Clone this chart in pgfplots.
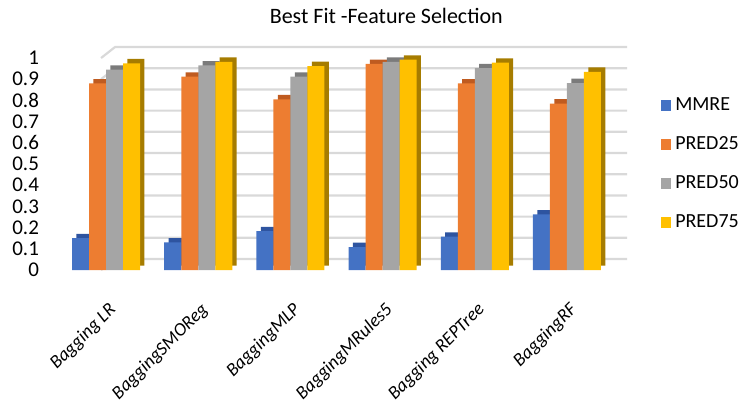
\documentclass[border=0pt]{standalone}
\usepackage{fontspec}
\setmainfont{Carlito}
\usepackage{pgfplots}
\pgfplotsset{compat=1.18}
\definecolor{cblue}{HTML}{4472C4}
\definecolor{corange}{HTML}{ED7D31}
\definecolor{cgray}{HTML}{A5A5A5}
\definecolor{cyellow}{HTML}{FFC000}
\definecolor{dblue}{HTML}{2E54A0}
\definecolor{dorange}{HTML}{BF5B20}
\definecolor{dgray}{HTML}{7B7B7B}
\definecolor{dyellow}{HTML}{A67C00}
\definecolor{gridc}{HTML}{D9D9D9}
\begin{document}
\begin{tikzpicture}[x=1pt,y=1pt]
\useasboundingbox (0,0) rectangle (372.5,202);
\begin{axis}[
  at={(30pt,67pt)}, anchor=south west, scale only axis,
  width=276.5pt, height=106pt,
  xmin=-0.5, xmax=5.5, ymin=0, ymax=1,
  clip=false,
  axis line style={draw=none}, tick style={draw=none},
  ytick={0,0.1,0.2,0.3,0.4,0.5,0.6,0.7,0.8,0.9,1},
  yticklabel style={font=\fontsize{10.5}{12}\selectfont, xshift=-7pt},
  /pgf/number format/assume math mode=true,
  /pgf/number format/.cd, fixed, precision=1, /pgfplots/.cd,
  xtick={0,1,2,3,4,5},
  xticklabels={Bagging LR, BaggingSMOReg, BaggingMLP, BaggingMRules5, Bagging REPTree, BaggingRF},
  xticklabel style={rotate=45, anchor=north east, font=\fontsize{9.3}{11}\selectfont\itshape, xshift=-4pt, yshift=-5pt},
  ybar, bar width=8.5pt,
  title={Best Fit -Feature Selection},
  title style={font=\fontsize{11}{13}\selectfont, at={(0.59,1.14)}, anchor=center},
  legend style={at={(1.075,0.5)}, anchor=west, draw=none, fill=none, font=\fontsize{10}{12}\selectfont, row sep=7.5pt},
  legend cell align=left,
  legend image code/.code={\fill[#1] (0pt,-2.6pt) rectangle (5.2pt,2.6pt);},
]
\pgfplotsinvokeforeach{0,0.1,0.2,0.3,0.4,0.5,0.6,0.7,0.8,0.9,1}{
  \draw[gridc, line width=1.1pt] (axis cs:-0.5,#1) ++(-2.5pt,0) -- ++(7pt,5.5pt) -- ([shift={(7pt,5.5pt)}]axis cs:5.5,#1);
}
% depth faces (darker, offset)
\addplot[fill=dblue, draw=none, bar shift=-12.75pt, xshift=2.2pt, yshift=2.2pt, forget plot] coordinates {(0,0.150) (1,0.130) (2,0.183) (3,0.108) (4,0.157) (5,0.262)};
\addplot[fill=dorange, draw=none, bar shift=-4.25pt, xshift=2.2pt, yshift=2.2pt, forget plot] coordinates {(0,0.880) (1,0.912) (2,0.805) (3,0.972) (4,0.880) (5,0.785)};
\addplot[fill=dgray, draw=none, bar shift=4.25pt, xshift=2.2pt, yshift=2.2pt, forget plot] coordinates {(0,0.945) (1,0.965) (2,0.912) (3,0.982) (4,0.952) (5,0.882)};
\addplot[fill=dyellow, draw=none, bar shift=12.75pt, xshift=2.2pt, yshift=2.2pt, forget plot] coordinates {(0,0.975) (1,0.982) (2,0.962) (3,0.992) (4,0.978) (5,0.935)};
% front faces
\addplot[fill=cblue, draw=none, bar shift=-12.75pt] coordinates {(0,0.150) (1,0.130) (2,0.183) (3,0.108) (4,0.157) (5,0.262)};
\addplot[fill=corange, draw=none, bar shift=-4.25pt] coordinates {(0,0.880) (1,0.912) (2,0.805) (3,0.972) (4,0.880) (5,0.785)};
\addplot[fill=cgray, draw=none, bar shift=4.25pt] coordinates {(0,0.945) (1,0.965) (2,0.912) (3,0.982) (4,0.952) (5,0.882)};
\addplot[fill=cyellow, draw=none, bar shift=12.75pt] coordinates {(0,0.975) (1,0.982) (2,0.962) (3,0.992) (4,0.978) (5,0.935)};
\legend{MMRE,PRED25,PRED50,PRED75}
\end{axis}
\end{tikzpicture}
\end{document}
